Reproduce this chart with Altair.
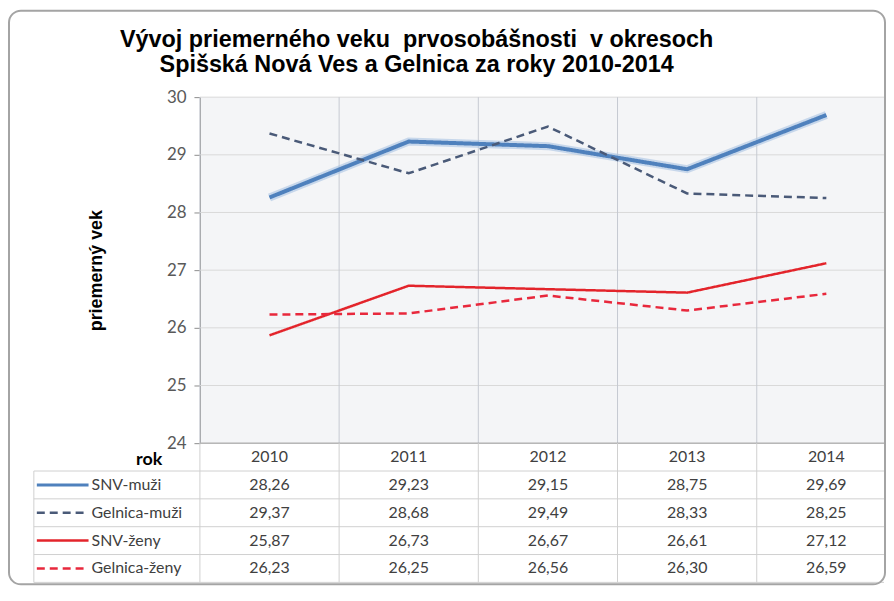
import altair as alt
import pandas as pd

# ---- data ----
years = ["2010", "2011", "2012", "2013", "2014"]
series_names = ["SNV-muži", "Gelnica-muži", "SNV-ženy", "Gelnica-ženy"]
snv_muzi = [28.26, 29.23, 29.15, 28.75, 29.69]
gelnica_muzi = [29.37, 28.68, 29.49, 28.33, 28.25]
snv_zeny = [25.87, 26.73, 26.67, 26.61, 27.12]
gelnica_zeny = [26.23, 26.25, 26.56, 26.30, 26.59]
y_ticks = [24, 25, 26, 27, 28, 29, 30]
title_lines = ["Vývoj priemerného veku\u00a0 prvosobášnosti\u00a0 v okresoch",
               "Spišská Nová Ves a Gelnica za roky 2010-2014"]

styles = {
    "SNV-muži": dict(color="#4f81bd", strokeWidth=4, strokeDash=[1, 0]),
    "Gelnica-muži": dict(color="#4a5a78", strokeWidth=2.5, strokeDash=[8, 5]),
    "SNV-ženy": dict(color="#e3242b", strokeWidth=2.5, strokeDash=[1, 0]),
    "Gelnica-ženy": dict(color="#e8283c", strokeWidth=2.5, strokeDash=[8, 5]),
}

rows = []
for name, vals in zip(series_names, [snv_muzi, gelnica_muzi, snv_zeny, gelnica_zeny]):
    for yr, v in zip(years, vals):
        rows.append({"series": name, "row": name, "year": yr, "value": v,
                     "label": f"{v:.2f}".replace(".", ",")})
df = pd.DataFrame(rows)
years_df = pd.DataFrame({"year": years, "row": ["rok"] * len(years)})
rows_df = pd.DataFrame({"row": series_names})
ticks_df = pd.DataFrame({"value": y_ticks})
one = pd.DataFrame({"a": [0]})

W = 688
H = 348
ROW_H = 28
row_order = ["rok"] + series_names
TH = ROW_H * len(row_order)

FONT = "Lato"
xscale = alt.Scale(domain=years, range=[0, 700], paddingInner=0, paddingOuter=0)
yscale = alt.Scale(domain=[24, 30], nice=False, zero=False)

x_top = alt.X("year:O", scale=xscale, bandPosition=0.5, axis=None)
x_edge = alt.X("year:O", scale=xscale, axis=None, bandPosition=0)
y_top = alt.Y("value:Q", scale=yscale,
              axis=alt.Axis(values=y_ticks, format="d", title="priemerný vek",
                            titleFont="Liberation Sans", grid=False,
                            titleFontSize=18, titleFontWeight="bold", titleColor="#000000",
                            titlePadding=61, labelFont=FONT, labelFontSize=17,
                            labelColor="#595959", labelPadding=8, tickColor="#8c8c8c",
                            tickSize=6, domainColor="#8c8c8c"))

layers = []
hgrid = alt.Chart(ticks_df).mark_rule(color="#d9d9d9", strokeWidth=1).encode(
    y=y_top, x=alt.value(0), x2=alt.value(W))
vgrid = alt.Chart(years_df).mark_rule(color="#c6cad2", strokeWidth=1).encode(
    x=x_edge, y=alt.value(0), y2=alt.value(H))
layers += [hgrid, vgrid]
glow = alt.Chart(df[df.series == "SNV-muži"]).mark_line(
    color="#a9c3e3", strokeWidth=8, opacity=0.6).encode(x=x_top, y=y_top)
layers.append(glow)
for name in series_names:
    st = styles[name]
    layers.append(
        alt.Chart(df[df.series == name]).mark_line(
            color=st["color"], strokeWidth=st["strokeWidth"], strokeDash=st["strokeDash"]
        ).encode(x=x_top, y=y_top)
    )
baseline = alt.Chart(one).mark_rule(color="#a0a0a0", strokeWidth=1).encode(
    y=alt.value(H), x=alt.value(0), x2=alt.value(W))
layers.append(baseline)

top = alt.layer(*layers).properties(
    width=W, height=H,
    view=alt.ViewBackground(fill="#f4f5f7", strokeWidth=0),
    title=alt.TitleParams(text=title_lines, anchor="middle", frame="group", dx=-126,
                          offset=12, font="Liberation Sans", fontSize=23.5,
                          fontWeight="bold", color="#000000", lineHeight=25),
)

# ---- data table ----
x_tab = alt.X("year:O", scale=xscale, axis=None, bandPosition=0.5)
yrow_scale = alt.Scale(domain=row_order, paddingInner=0, paddingOuter=0)
y_row = alt.Y("row:N", scale=yrow_scale, axis=None, bandPosition=0.5)
y_row_edge = alt.Y("row:N", scale=yrow_scale, axis=None, bandPosition=0)

grid_col = "#d0d0d0"
hlines = alt.Chart(rows_df).mark_rule(color=grid_col, strokeWidth=1).encode(
    y=y_row_edge, x=alt.value(-167), x2=alt.value(W))
bottom_line = alt.Chart(one).mark_rule(color=grid_col, strokeWidth=1).encode(
    y=alt.value(TH), x=alt.value(-167), x2=alt.value(W))
vlines = alt.Chart(years_df).mark_rule(color=grid_col, strokeWidth=1).encode(
    x=x_edge, y=alt.value(0), y2=alt.value(TH))
left_line = alt.Chart(one).mark_rule(color=grid_col, strokeWidth=1).encode(
    x=alt.value(-167), y=alt.value(ROW_H), y2=alt.value(TH))

values_text = alt.Chart(df).mark_text(font=FONT, fontSize=16, color="#404040",
                                      align="center", baseline="middle").encode(
    x=x_tab, y=y_row, text="label:N")
years_text = alt.Chart(years_df).mark_text(font=FONT, fontSize=16, color="#404040",
                                           align="center", baseline="middle").encode(
    x=x_tab, y=y_row, text="year:N")
rok_text = alt.Chart(pd.DataFrame({"row": ["rok"], "t": ["rok"]})).mark_text(
    font=FONT, fontSize=18, fontWeight="bold", color="#000000", align="center",
    baseline="middle", dy=3).encode(x=alt.value(-51), y=y_row, text="t:N")
label_text = alt.Chart(rows_df).mark_text(font=FONT, fontSize=16, color="#404040",
                                          align="left", baseline="middle").encode(
    x=alt.value(-109), y=y_row, text="row:N")

glyphs = []
for name in series_names:
    st = styles[name]
    glyphs.append(
        alt.Chart(rows_df[rows_df.row == name]).mark_rule(
            color=st["color"], strokeWidth=min(st["strokeWidth"], 3), strokeDash=st["strokeDash"]
        ).encode(y=y_row, x=alt.value(-164), x2=alt.value(-112))
    )

# frame around the whole figure (drawn from the table panel)
frame = alt.Chart(one).mark_rect(fillOpacity=0, stroke="#a4a4a4", strokeWidth=2,
                                 cornerRadius=12).encode(
    x=alt.value(-192), x2=alt.value(689), y=alt.value(-435), y2=alt.value(TH + 2))

table = alt.layer(hlines, bottom_line, vlines, left_line, values_text, years_text,
                  rok_text, label_text, *glyphs, frame).properties(
    width=W, height=TH, view=alt.ViewBackground(strokeWidth=0))

chart = alt.vconcat(top, table, spacing=0, bounds="flush").properties(
    autosize=alt.AutoSizeParams(type="pad"),
    padding=0,
).configure_view(strokeWidth=0)

chart.save("out.html", embed_options={"renderer": "svg", "actions": False})
